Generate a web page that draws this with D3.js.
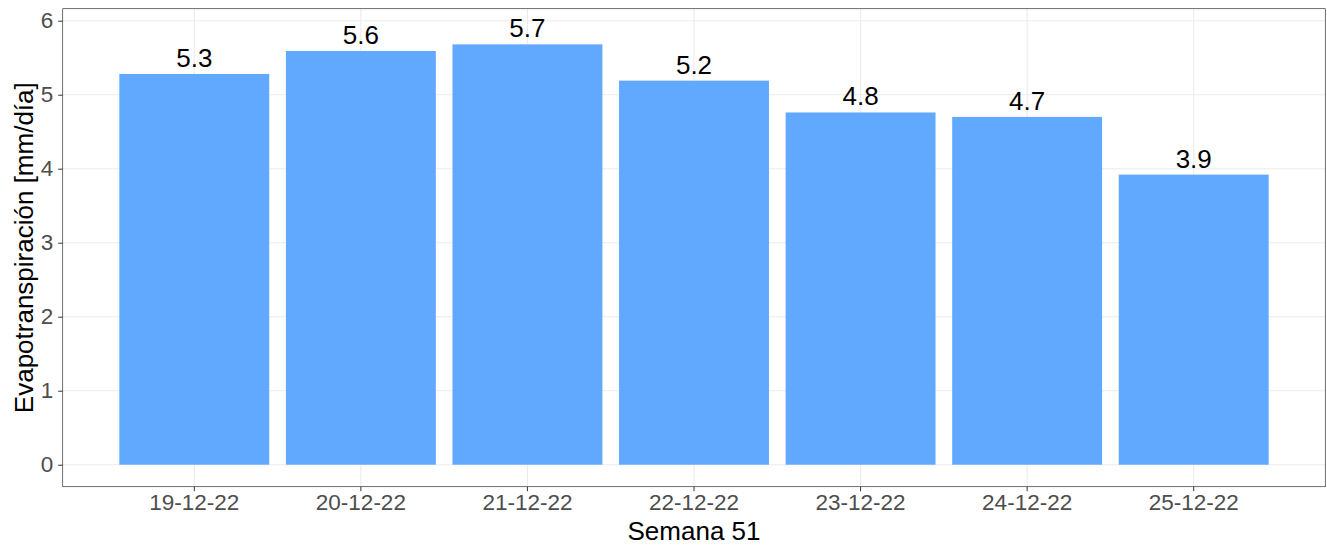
<!DOCTYPE html>
<html>
<head>
<meta charset="utf-8">
<script src="https://cdn.jsdelivr.net/npm/d3@7"></script>
<style>
  body { margin: 0; background: #fff; }
  text { font-family: "Liberation Sans", Arial, sans-serif; }
</style>
</head>
<body>
<svg id="chart" width="1327" height="546"></svg>
<script>
// daily values
const days = ["19-12-22", "20-12-22", "21-12-22", "22-12-22", "23-12-22", "24-12-22", "25-12-22"];
const evapo = [5.28, 5.59, 5.68, 5.19, 4.76, 4.70, 3.92];
const yTicks = [0, 1, 2, 3, 4, 5, 6];

const svg = d3.select("#chart");
const panel = { left: 62.7, right: 1325.3, top: 8.7, bottom: 486.7 };

// band scale: 0.9 wide bars, outer gap a bit wider than ggplot default
const x = d3.scaleBand()
  .domain(days)
  .range([panel.left, panel.right])
  .paddingInner(0.1)
  .paddingOuter(0.34);

const y = d3.scaleLinear()
  .domain([-0.297, 6.162])
  .range([panel.bottom, panel.top]);

// grid lines (major only)
const grid = svg.append("g");
grid.selectAll(".gy")
  .data(yTicks)
  .join("line")
  .attr("x1", panel.left).attr("x2", panel.right)
  .attr("y1", d => y(d)).attr("y2", d => y(d))
  .attr("stroke", "#EBEBEB").attr("stroke-width", 1.1);
grid.selectAll(".gx")
  .data(days)
  .join("line")
  .attr("x1", d => x(d) + x.bandwidth() / 2).attr("x2", d => x(d) + x.bandwidth() / 2)
  .attr("y1", panel.top).attr("y2", panel.bottom)
  .attr("stroke", "#EBEBEB").attr("stroke-width", 1.1);

// bars
svg.append("g")
  .selectAll("rect")
  .data(days)
  .join("rect")
  .attr("x", d => x(d))
  .attr("width", x.bandwidth())
  .attr("y", (d, i) => y(evapo[i]))
  .attr("height", (d, i) => y(0) - y(evapo[i]))
  .attr("fill", "#61A8FF");

// value labels above bars
svg.append("g")
  .selectAll("text")
  .data(days)
  .join("text")
  .attr("x", d => x(d) + x.bandwidth() / 2)
  .attr("y", (d, i) => y(evapo[i]) - 7)
  .attr("text-anchor", "middle")
  .style("font-size", "26px")
  .attr("fill", "#000")
  .text((d, i) => d3.format(".1f")(evapo[i]));

// panel border
svg.append("rect")
  .attr("x", panel.left).attr("y", panel.top)
  .attr("width", panel.right - panel.left)
  .attr("height", panel.bottom - panel.top)
  .attr("fill", "none")
  .attr("stroke", "#333").attr("stroke-width", 0.7);

// axes
const yAxis = svg.append("g")
  .attr("transform", `translate(${panel.left},0)`)
  .call(d3.axisLeft(y).tickValues(yTicks).tickSize(4.5).tickPadding(5).tickFormat(d3.format("d")));
const xAxis = svg.append("g")
  .attr("transform", `translate(0,${panel.bottom})`)
  .call(d3.axisBottom(x).tickSize(4.5).tickPadding(3));

[yAxis, xAxis].forEach(ax => {
  ax.select(".domain").remove();
  ax.selectAll(".tick line").attr("stroke", "#333").attr("stroke-width", 1);
  ax.selectAll(".tick text")
    .attr("fill", "#4D4D4D")
    .style("font-size", "22.5px")
    .style("font-family", "'Liberation Sans', Arial, sans-serif");
});

// axis titles
svg.append("text")
  .attr("x", (panel.left + panel.right) / 2)
  .attr("y", 540)
  .attr("text-anchor", "middle")
  .style("font-size", "26px")
  .attr("fill", "#000")
  .text("Semana 51");

svg.append("text")
  .attr("transform", `translate(33,${(panel.top + panel.bottom) / 2}) rotate(-90)`)
  .attr("text-anchor", "middle")
  .style("font-size", "26px")
  .attr("fill", "#000")
  .text("Evapotranspiración [mm/día]");
</script>
</body>
</html>
